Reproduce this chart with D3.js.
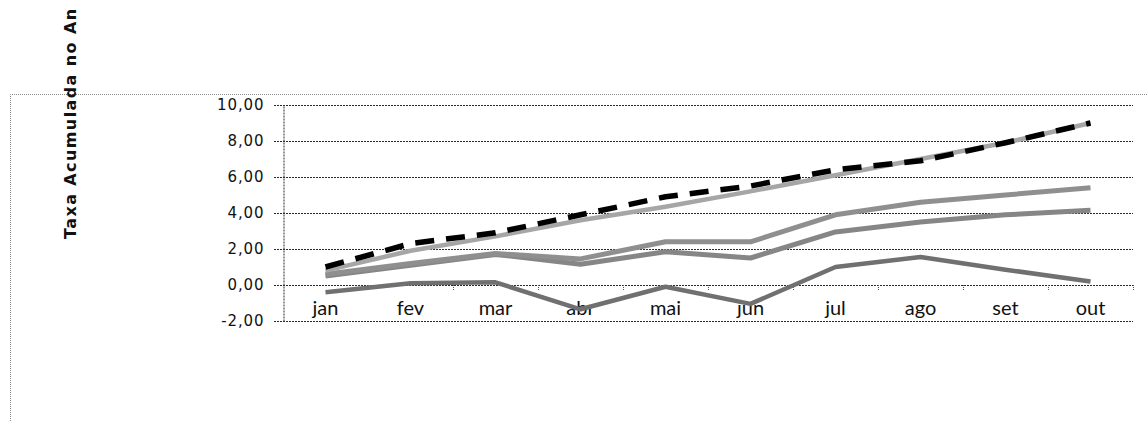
<!DOCTYPE html>
<html>
<head>
<meta charset="utf-8">
<script src="https://cdn.jsdelivr.net/npm/d3@7"></script>
<style>
    body { margin: 0; background: #fff; }
    svg { display: block; }
</style>
</head>
<body>
<script>
    // Data
    var months = ['jan', 'fev', 'mar', 'abr', 'mai', 'jun', 'jul', 'ago', 'set', 'out'];
    var yTicks = [-2, 0, 2, 4, 6, 8, 10];

    var serieTracejada = [1.0, 2.3, 2.9, 3.9, 4.9, 5.5, 6.4, 6.9, 7.9, 9.0];
    var serieClara     = [0.8, 1.9, 2.7, 3.6, 4.35, 5.2, 6.1, 7.0, 7.9, 9.0];
    var serieMedia1    = [0.6, 1.2, 1.75, 1.45, 2.4, 2.4, 3.9, 4.6, 5.0, 5.4];
    var serieMedia2    = [0.5, 1.1, 1.7, 1.15, 1.85, 1.5, 2.95, 3.5, 3.9, 4.15];
    var serieEscura    = [-0.4, 0.1, 0.15, -1.35, -0.1, -1.05, 1.0, 1.55, 0.85, 0.2];

    var W = 1148, H = 421;

    var svg = d3.select('body')
        .append('svg')
        .attr('width', W)
        .attr('height', H);

    // outer dotted frame (only top and left visible)
    svg.append('path')
        .attr('d', 'M10.5,' + H + 'V94.5H' + W)
        .attr('fill', 'none')
        .attr('stroke', '#8a8a8a')
        .attr('stroke-width', 1)
        .attr('stroke-dasharray', '1,1');

    // scales
    var x = d3.scaleBand()
        .domain(months)
        .range([283, 1133]);

    var y = d3.scaleLinear()
        .domain([-2, 10])
        .range([321, 105]);

    // pt-BR style numbers, with a plain hyphen for negatives
    var fmt = function (d) { return d.toFixed(2).replace('.', ','); };

    // gridlines
    svg.append('g')
        .selectAll('line')
        .data(yTicks)
        .enter()
        .append('line')
        .attr('x1', 274)
        .attr('x2', x.range()[1])
        .attr('y1', function (d) { return Math.round(y(d)) + 0.5; })
        .attr('y2', function (d) { return Math.round(y(d)) + 0.5; })
        .attr('stroke', '#2a2a2a')
        .attr('stroke-width', 1)
        .attr('stroke-dasharray', '2,1');

    // y axis
    var yAxis = svg.append('g')
        .attr('transform', 'translate(283.5,0)')
        .call(d3.axisLeft(y).tickValues(yTicks).tickFormat(fmt).tickSize(0).tickPadding(19));
    yAxis.select('.domain')
        .attr('stroke', '#2a2a2a')
        .attr('stroke-dasharray', '2,1');
    yAxis.selectAll('text')
        .attr('font-family', 'DejaVu Sans, Verdana, sans-serif')
        .attr('font-size', 15)
        .attr('letter-spacing', 0.9)
        .attr('fill', '#111');

    // category ticks on the zero line
    var bounds = months.map(function (m) { return x(m) + x.bandwidth(); });
    svg.append('g')
        .selectAll('line')
        .data(bounds)
        .enter()
        .append('line')
        .attr('x1', function (d) { return Math.round(d) + 0.5; })
        .attr('x2', function (d) { return Math.round(d) + 0.5; })
        .attr('y1', y(0))
        .attr('y2', y(0) + 6)
        .attr('stroke', '#555')
        .attr('stroke-width', 1)
        .attr('stroke-dasharray', '1,1');

    // category labels
    svg.append('g')
        .selectAll('text')
        .data(months)
        .enter()
        .append('text')
        .attr('x', function (d) { return x(d) + x.bandwidth() / 2; })
        .attr('y', y(0) + 30)
        .attr('text-anchor', 'middle')
        .attr('font-family', 'Lato, Open Sans, sans-serif')
        .attr('font-size', 20)
        .attr('fill', '#111')
        .text(function (d) { return d; });

    // y title
    svg.append('text')
        .attr('transform', 'translate(76,239) rotate(-90)')
        .attr('font-family', 'DejaVu Sans, Verdana, sans-serif')
        .attr('font-weight', 'bold')
        .attr('font-size', 16)
        .attr('letter-spacing', 1.4)
        .attr('fill', '#111')
        .text('Taxa Acumulada no An');

    // series
    var line = d3.line()
        .x(function (d, i) { return x(months[i]) + x.bandwidth() / 2; })
        .y(function (d) { return y(d); });

    var series = [
        { values: serieEscura, color: '#707070', width: 4.5, dash: null },
        { values: serieMedia2, color: '#868686', width: 5, dash: null },
        { values: serieMedia1, color: '#8f8f8f', width: 5, dash: null },
        { values: serieClara, color: '#a6a6a6', width: 4.5, dash: null },
        { values: serieTracejada, color: '#000', width: 5.5, dash: '19,12' }
    ];

    svg.append('g')
        .selectAll('path')
        .data(series)
        .enter()
        .append('path')
        .attr('d', function (s) { return line(s.values); })
        .attr('fill', 'none')
        .attr('stroke', function (s) { return s.color; })
        .attr('stroke-width', function (s) { return s.width; })
        .attr('stroke-dasharray', function (s) { return s.dash; })
        .attr('stroke-linejoin', 'round');
</script>
</body>
</html>
